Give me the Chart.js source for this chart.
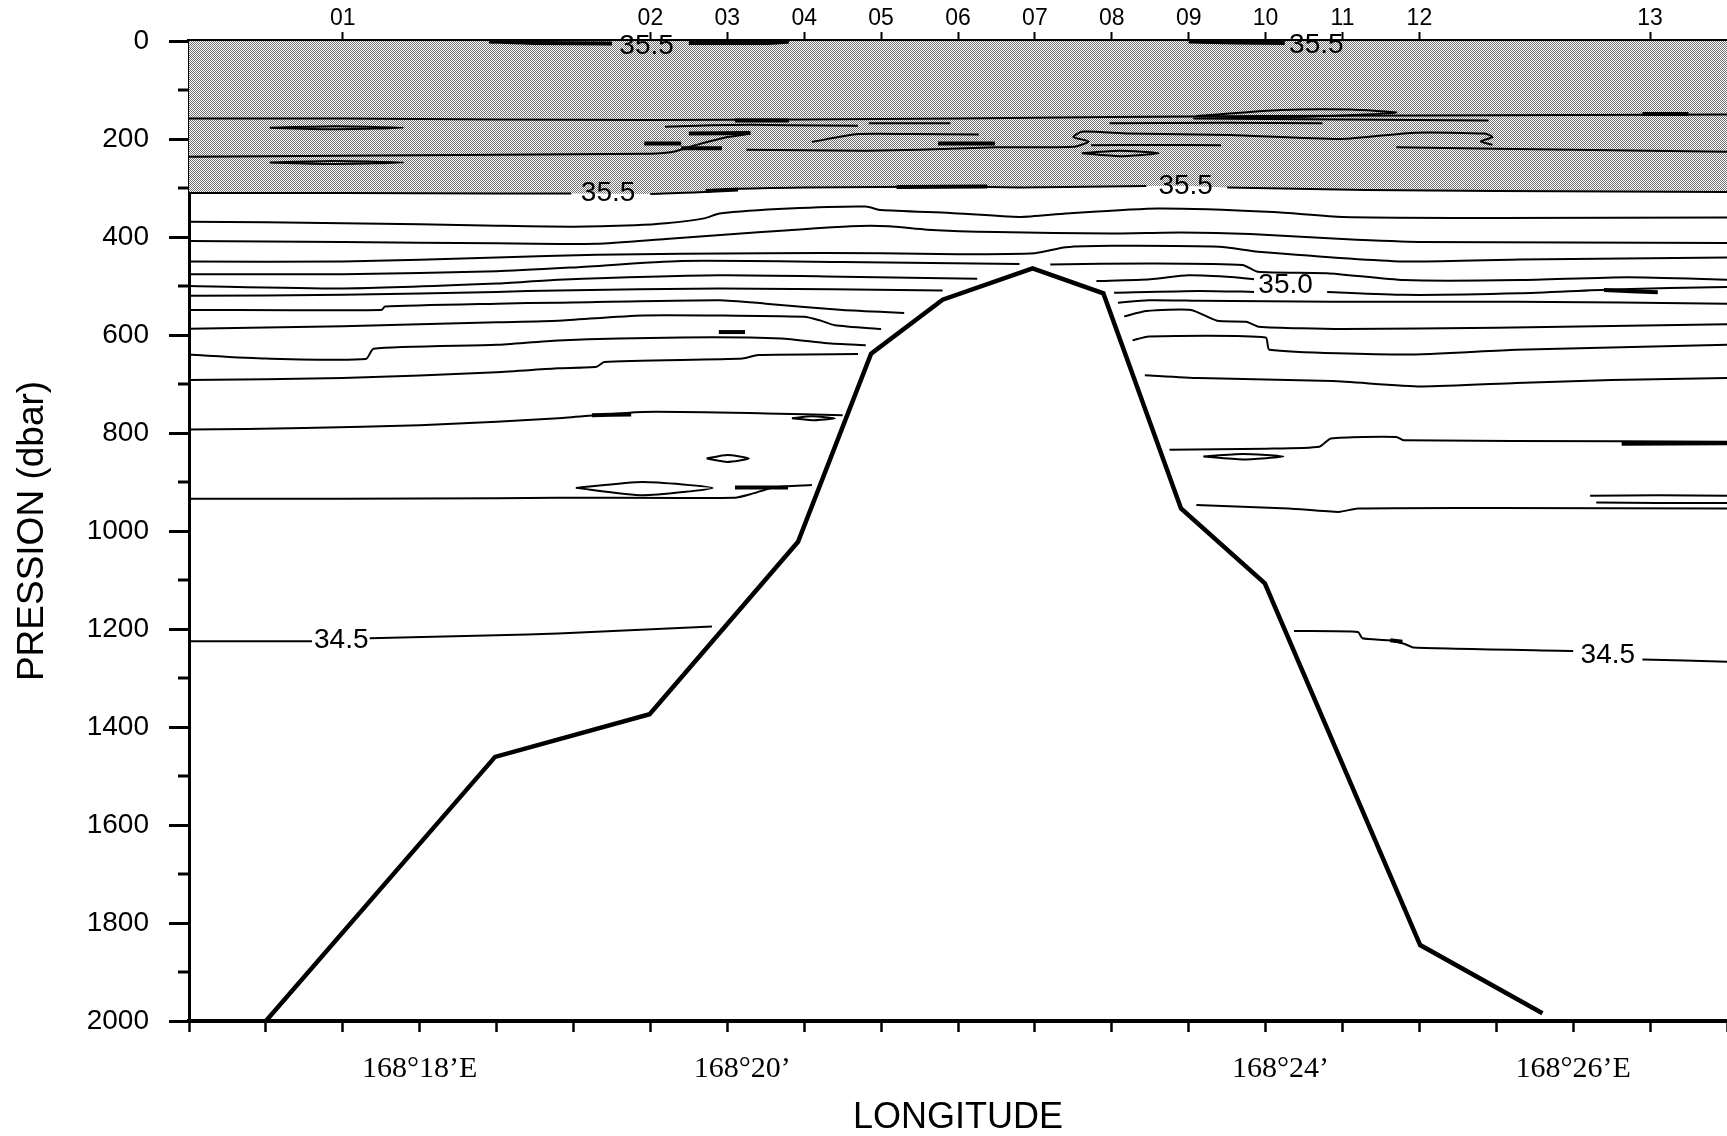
<!DOCTYPE html>
<html>
<head>
<meta charset="utf-8">
<script src="https://cdn.jsdelivr.net/npm/chart.js@4.4.1/dist/chart.umd.min.js"></script>
<style>
  html, body { margin: 0; padding: 0; background: #fff; }
</style>
</head>
<body>
<canvas id="section" width="1727" height="1136"></canvas>
<script>
// x positions are in tick units along the section, pressures in dbar
const stationPos = [2, 6, 7, 8, 9, 10, 11, 12, 13, 14, 15, 16, 19];
const stationNames = ['01', '02', '03', '04', '05', '06', '07', '08', '09', '10', '11', '12', '13'];
const lonGrid = [0, 1, 2, 3, 4, 5, 6, 7, 8, 9, 10, 11, 12, 13, 14, 15, 16, 17, 18, 19, 20];
const lonTicks = [3, 7, 14, 18];
const lonLabels = ['168°18’E', '\u2002\u2002168°20’', '\u2002\u2002168°24’', '168°26’E'];
const pressureTicks = [0, 200, 400, 600, 800, 1000, 1200, 1400, 1600, 1800, 2000];
const pressureMinor = [100, 300, 500, 700, 900, 1100, 1300, 1500, 1700, 1900];

// bottom profile
const seamount = [[1, 2000], [3.98, 1461], [5.99, 1374], [7.92, 1022], [8.87, 638], [9.8, 528],
  [10.97, 464], [11.89, 515], [12.9, 954], [13.99, 1107], [16.01, 1845], [17.6, 1984]];

// 35.5 isohaline (lower edge of the shaded layer)
const iso355Fill = [[0, 310], [2, 310], [4, 311], [5, 311], [6, 312], [6.7, 308], [7.1, 302], [8, 299], [9, 298],
  [10, 297], [10.8, 299], [11.4, 298], [12.5, 296], [13, 296], [13.5, 299], [15.3, 304], [17, 306], [20, 308]];
const iso355a = [[0, 310], [2, 310], [4, 311], [4.97, 311]];
const iso355b = [[6.0, 312], [6.7, 308], [7.1, 302], [8, 299], [9, 298], [10, 297], [10.8, 299], [11.4, 298], [12.45, 296]];
const iso355c = [[13.5, 299], [15.3, 304], [17, 306], [20, 308]];
const iso355Thick = [[[6.72, 306], [7.14, 303]], [[9.2, 298], [10.38, 297]]];
const iso355Surf = [[[3.9, 1], [4.5, 4], [5.5, 5]], [[6.5, 4], [7.5, 4], [7.8, 1]], [[13.0, 1], [13.6, 3], [14.25, 4]]];

// inside the shaded layer
const iso160 = [[0, 158], [2, 158], [4, 160], [6, 161], [8, 160], [10, 158], [12, 155], [14, 153], [16, 152], [18, 151], [20, 150]];
const iso236 = [[0, 236], [2, 234], [4, 232], [6, 230], [6.3, 226], [6.6, 212], [7.0, 196], [7.3, 189]];
const iso220 = [[7.25, 222], [8.0, 223], [8.8, 224], [9.5, 222], [10.5, 217], [11.5, 216], [11.7, 205], [11.5, 196],
  [11.61, 185], [12.22, 189], [13.54, 192], [14.98, 200], [15.95, 187], [16.85, 189], [16.95, 196], [16.8, 205], [16.95, 212]];
const iso220r = [[15.7, 217], [17, 220], [18.5, 223], [20, 226]];
const iso172 = [[6.19, 175], [6.8, 172], [7.3, 171], [7.8, 172], [8.7, 173]];
const iso190 = [[8.1, 206], [8.7, 190], [9.4, 190], [10.27, 191]];
const iso168 = [[8.84, 168], [9.9, 168]];
const iso168r = [[11.97, 168], [13.5, 167], [14.74, 168]];
const iso212 = [[11.73, 213], [12.5, 212], [13.42, 213]];
const iso160r = [[13.06, 158], [15, 160], [16.9, 162]];
const shadedBits = [[[7.1, 162], [7.8, 162]], [[5.92, 209], [6.4, 209]], [[6.4, 219], [6.93, 219]], [[9.74, 209], [10.48, 209]],
  [[18.9, 149], [19.5, 149]], [[6.5, 189], [7.3, 188]]];
const shadedRings = [
  [[1.05, 177], [1.9, 174], [2.79, 177], [1.9, 180], [1.05, 177]],
  [[1.05, 248], [1.9, 245], [2.79, 248], [1.9, 251], [1.05, 248]],
  [[13.1, 153], [14.2, 141], [15.1, 140], [15.7, 146], [15.0, 152], [14.0, 156], [13.1, 153]],
  [[11.61, 229], [12.1, 224], [12.61, 229], [12.1, 235], [11.61, 229]]
];

// below the shaded layer
const iso370 = [[0, 369], [1, 370], [2, 372], [3, 374], [4, 377], [5, 379], [5.8, 376], [6.2, 372], [6.7, 362], [6.9, 352],
  [7.8, 342], [8.8, 338], [9.0, 345], [9.9, 351], [10.8, 359], [11.4, 352], [12.6, 342], [14.1, 349], [15.0, 359], [17, 361], [20, 360]];
const iso408 = [[0, 408], [2, 410], [4, 413], [5.3, 414], [6.2, 404], [7.0, 395], [7.8, 386], [8.6, 378], [9.1, 378], [9.6, 385],
  [10.5, 390], [12.0, 393], [12.9, 391], [13.8, 394], [15.0, 404], [16, 410], [20, 412]];
const iso451 = [[0, 450], [2, 450], [4, 442], [5.3, 436], [7.5, 433], [9, 433], [10, 435], [11.0, 433], [11.4, 421], [12, 418],
  [13.4, 420], [13.9, 430], [15.8, 450], [17.3, 446], [20, 442]];
const iso476a = [[0, 476], [2, 476], [4, 470], [5, 462], [6.4, 449], [8.5, 451], [10.8, 455]];
const iso476b = [[11.2, 456], [12.5, 454], [13.7, 457], [13.9, 471], [14.8, 474], [15.8, 488], [17.3, 488], [18.7, 482], [20, 487]];
const iso500a = [[0, 500], [2, 505], [4, 495], [4.8, 487], [6.9, 478], [8.5, 481], [10.25, 485]];
const iso500b = [[11.8, 490], [12.5, 486], [13.0, 478], [13.6, 482], [13.85, 486]];
const iso500c = [[14.8, 512], [15.8, 518], [17.3, 515], [18.5, 507], [20, 502]];
const iso520a = [[0, 520], [2, 518], [4, 512], [4.8, 509], [6.9, 505], [9.8, 509]];
const iso520b = [[12.03, 514], [13.13, 510], [13.85, 512]];
const iso549a = [[0, 549], [2.5, 549], [2.55, 542], [4, 536], [4.8, 534], [6.9, 529], [7.5, 536], [8.5, 549], [9.3, 555]];
const iso549b = [[12.08, 534], [12.48, 529], [13.13, 530], [14.87, 532], [17.26, 532], [20, 536]];
const iso587a = [[0, 587], [2, 582], [4, 574], [4.8, 571], [5.9, 560], [8.0, 563], [8.2, 570], [8.4, 580], [9.0, 588]];
const iso587b = [[12.16, 562], [12.45, 551], [13.03, 549], [13.37, 571], [13.75, 573], [13.91, 583], [15, 588], [17, 585], [20, 578]];
const iso640a = [[0, 640], [1, 648], [2.3, 649], [2.4, 628], [4, 620], [4.8, 611], [6.4, 605], [7.7, 607], [8.3, 617], [8.8, 621]];
const iso640b = [[12.27, 611], [12.48, 603], [14.0, 605], [14.05, 630], [15.83, 640], [17.26, 630], [20, 620]];
const iso692a = [[0, 692], [2, 688], [4, 676], [4.8, 668], [5.3, 665], [5.4, 655], [7.2, 648], [7.4, 641], [8.7, 639]];
const iso692b = [[12.43, 682], [13.13, 688], [14.87, 694], [16.02, 705], [17.26, 698], [18.5, 692], [20, 688]];
const iso793a = [[0, 793], [1.5, 790], [3, 784], [4, 777], [4.8, 770], [5.9, 757], [7.5, 760], [8.5, 764]];
const iso793b = [[12.75, 834], [14.0, 832], [14.7, 828], [14.85, 811], [15.7, 808], [15.8, 815], [18.6, 817], [20, 818]];
const iso934a = [[0, 934], [2, 934], [4, 933], [4.8, 932], [7.1, 932], [7.3, 925], [7.6, 911], [8.1, 906]];
const iso934b = [[13.1, 947], [14.3, 954], [14.95, 961], [15.2, 954], [17, 953], [20, 954]];
const iso345a = [[0, 1225], [1.6, 1225]];
const iso345b = [[2.35, 1219], [4, 1213], [4.8, 1209], [6.8, 1195]];
const iso345c = [[14.37, 1204], [15.2, 1206], [15.26, 1219], [15.6, 1223], [15.8, 1230], [15.93, 1238], [18.0, 1245]];
const iso345d = [[18.9, 1262], [20, 1267]];
const deepBits = [[[5.24, 764], [5.75, 762]], [[7.1, 911], [7.79, 911]], [[6.89, 594], [7.23, 594]], [[18.63, 822], [20, 821]],
  [[18.4, 508], [19.1, 513]], [[15.62, 1223], [15.78, 1226]]];
const deepRings = [
  [[6.73, 852], [7.0, 845], [7.28, 852], [7.0, 859], [6.73, 852]],
  [[5.03, 912], [5.9, 900], [6.81, 912], [5.9, 927], [5.03, 912]],
  [[7.84, 770], [8.1, 766], [8.4, 770], [8.1, 774], [7.84, 770]],
  [[13.19, 848], [13.7, 843], [14.23, 848], [13.7, 854], [13.19, 848]]
];
const iso930r = [[18.22, 928], [19.1, 927], [20, 928]];
const iso942r = [[18.3, 942], [19.1, 943], [20, 943]];

// isohaline labels
const isoLabelText = ['35.5', '35.5', '35.5', '35.5', '35.0', '34.5', '34.5'];
const isoLabelPos = [[5.95, 11], [14.66, 8], [5.45, 311], [12.96, 297], [14.26, 498], [1.98, 1223], [18.45, 1253]];

const pts = a => a.map(([x, y]) => ({ x, y }));
const line = (a, w) => ({ data: pts(a), borderColor: '#000', borderWidth: w || 2, pointRadius: 0, fill: false, tension: 0.2, order: 2 });

// stipple for the salty layer: fine checkerboard of grey dots
const tile = document.createElement('canvas');
tile.width = 2; tile.height = 2;
const tc = tile.getContext('2d');
tc.fillStyle = '#fff'; tc.fillRect(0, 0, 2, 2);
tc.fillStyle = '#727272';
tc.fillRect(0, 0, 1, 1);
tc.fillRect(1, 1, 1, 1);
const canvas = document.getElementById('section');
const stipple = canvas.getContext('2d').createPattern(tile, 'repeat');

const datasets = [
  { data: pts(seamount), borderColor: '#000', borderWidth: 4.5, borderJoinStyle: 'miter', pointRadius: 0, fill: false, tension: 0, order: 0 },
  { data: pts(iso355Fill), borderWidth: 0, backgroundColor: stipple, pointRadius: 0, fill: { value: 0 }, tension: 0, order: 20 }
];
[iso355a, iso355b, iso355c, iso160, iso236, iso220, iso220r, iso172, iso190, iso168, iso168r, iso212, iso160r,
  iso370, iso408, iso451, iso476a, iso476b, iso500a, iso500b, iso500c, iso520a, iso520b, iso549a, iso549b,
  iso587a, iso587b, iso640a, iso640b, iso692a, iso692b, iso793a, iso793b, iso934a, iso934b,
  iso345a, iso345b, iso345c, iso345d, iso930r, iso942r].forEach(a => datasets.push(line(a, 2)));
shadedRings.concat(deepRings).forEach(a => datasets.push(line(a, 2)));
iso355Thick.concat(iso355Surf, shadedBits, deepBits).forEach(a => datasets.push(line(a, 4)));

const extras = {
  id: 'extras',
  afterDraw(chart) {
    const { ctx, scales: { x, y } } = chart;
    ctx.save();
    ctx.strokeStyle = '#000';
    ctx.lineWidth = 3;
    pressureMinor.forEach(p => {
      const py = y.getPixelForValue(p);
      ctx.beginPath();
      ctx.moveTo(y.right - 11, py);
      ctx.lineTo(y.right, py);
      ctx.stroke();
    });
    ctx.fillStyle = '#000';
    ctx.font = '28px "Liberation Sans", Arial, sans-serif';
    ctx.textAlign = 'center';
    ctx.textBaseline = 'middle';
    isoLabelText.forEach((t, i) => {
      ctx.fillText(t, x.getPixelForValue(isoLabelPos[i][0]), y.getPixelForValue(isoLabelPos[i][1]));
    });
    ctx.restore();
  }
};

// keep the plot area fixed: no extra side padding from tick labels
const noSidePad = s => { s.paddingLeft = 0; s.paddingRight = 0; };

Chart.defaults.color = '#000';
Chart.defaults.font.family = '"Liberation Sans", Arial, sans-serif';

new Chart(canvas, {
  type: 'line',
  data: { datasets },
  options: {
    responsive: false,
    animation: false,
    events: [],
    layout: { padding: 0, autoPadding: false },
    plugins: { legend: { display: false }, tooltip: { enabled: false } },
    scales: {
      x: {
        type: 'linear', position: 'bottom', min: 0, max: 20, z: 1,
        afterBuildTicks: s => { s.ticks = lonGrid.map(v => ({ value: v })); },
        afterFit: s => { s.height = 115; noSidePad(s); },
        grid: { drawOnChartArea: false, tickLength: 11, tickWidth: 2.5, tickColor: '#000' },
        border: { display: true, width: 4, color: '#000' },
        ticks: {
          autoSkip: false, maxRotation: 0, minRotation: 0, padding: 19,
          font: { family: '"Liberation Serif", "Times New Roman", serif', size: 30 },
          callback: v => { const i = lonTicks.indexOf(v); return i >= 0 ? lonLabels[i] : ''; }
        },
        title: { display: true, text: 'LONGITUDE', font: { size: 36 }, padding: { top: 0, bottom: -4 } }
      },
      xTop: {
        type: 'linear', position: 'top', min: 0, max: 20, z: 1,
        afterBuildTicks: s => { s.ticks = stationPos.map(v => ({ value: v })); },
        afterFit: s => { s.height = 41; noSidePad(s); },
        grid: { drawOnChartArea: false, tickLength: 9, tickWidth: 2, tickColor: '#000' },
        border: { display: true, width: 4, color: '#000' },
        ticks: {
          autoSkip: false, maxRotation: 0, minRotation: 0, padding: 0,
          font: { size: 23 },
          callback: v => stationNames[stationPos.indexOf(v)]
        }
      },
      y: {
        type: 'linear', position: 'left', min: 0, max: 2000, reverse: true, z: 1,
        afterBuildTicks: s => { s.ticks = pressureTicks.map(v => ({ value: v })); },
        afterFit: s => { s.width = 189; },
        grid: { drawOnChartArea: false, tickLength: 20, tickWidth: 3, tickColor: '#000' },
        border: { display: true, width: 3, color: '#000' },
        ticks: { autoSkip: false, padding: 20, font: { size: 28 }, callback: v => String(v) },
        title: { display: true, text: 'PRESSION (dbar)', font: { size: 37 }, padding: { top: 11, bottom: 0 } }
      }
    }
  },
  plugins: [extras]
});
</script>
</body>
</html>
